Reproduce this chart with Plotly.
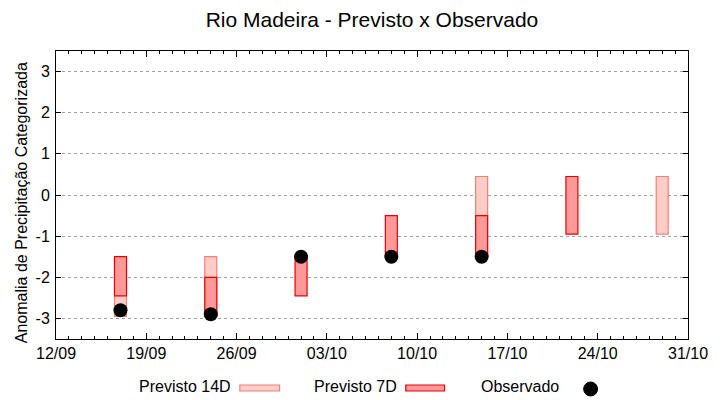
import plotly.graph_objects as go

# ---- data ----
dates = ["2023-09-17", "2023-09-24", "2023-10-01", "2023-10-08",
         "2023-10-15", "2023-10-22", "2023-10-29"]
p14_top = [-1.5, -1.5, None, None, 0.45, None, 0.45]
p14_bot = [-2.95, -2.95, None, None, -1.5, None, -0.95]
p7_top = [-1.5, -2.0, -1.5, -0.5, -0.5, 0.45, None]
p7_bot = [-2.45, -2.95, -2.45, -1.5, -1.5, -0.95, None]
obs = [-2.8, -2.9, -1.5, -1.5, -1.5, None, None]

y_ticks = [-3, -2, -1, 0, 1, 2, 3]
y_ticktext = ["-3", "-2", "-1", "0", "1", "2", "3"]

title = "Rio Madeira - Previsto x Observado"
y_title = "Anomalia de Precipitação Categorizada"
legend_names = ["Previsto 14D", "Previsto 7D", "Observado"]

# ---- styles ----
C14_FILL, C14_LINE = "#ffccc8", "#f08078"
C7_FILL, C7_LINE = "#ff9999", "#e80000"
DAY = 86400000
FONT = "Liberation Sans, Arial, sans-serif"

W, H = 720, 400
ML, MR, MT, MB = 56, 28, 51, 61
PW, PH = W - ML - MR, H - MT - MB


def px(x):
    return (x - ML) / PW


def py(y):
    return (H - MB - y) / PH


def bars(tops, bots):
    xs, ys, bs = [], [], []
    for d, t, b in zip(dates, tops, bots):
        if t is None or b is None:
            continue
        xs.append(d)
        ys.append(t - b)
        bs.append(b)
    return xs, ys, bs


fig = go.Figure()
x14, y14, b14 = bars(p14_top, p14_bot)
fig.add_trace(go.Bar(x=x14, y=y14, base=b14, width=0.93 * DAY,
                     marker=dict(color=C14_FILL, line=dict(color=C14_LINE, width=1.2)),
                     name=legend_names[0], showlegend=False))
x7, y7, b7 = bars(p7_top, p7_bot)
fig.add_trace(go.Bar(x=x7, y=y7, base=b7, width=0.93 * DAY,
                     marker=dict(color=C7_FILL, line=dict(color=C7_LINE, width=1.2)),
                     name=legend_names[1], showlegend=False))
fig.add_trace(go.Scatter(x=dates, y=obs, mode="markers",
                         marker=dict(color="black", size=14),
                         name=legend_names[2], showlegend=False))

fig.update_layout(
    width=W, height=H,
    margin=dict(l=ML, r=MR, t=MT, b=MB),
    barmode="overlay",
    plot_bgcolor="white", paper_bgcolor="white",
    font=dict(family=FONT, size=16, color="black"),
    title=dict(text=title, x=0.5, xref="paper", xanchor="center",
               y=1 - 20 / H, yref="container", yanchor="middle",
               font=dict(size=21, family=FONT, color="black")),
)
fig.update_xaxes(
    type="date", range=["2023-09-12", "2023-10-31"],
    tick0="2023-09-12", dtick=7 * DAY, tickformat="%d/%m",
    ticks="inside", ticklen=6, tickcolor="black",
    minor=dict(dtick=DAY, ticks="inside", ticklen=3, tickcolor="black", showgrid=False),
    showline=True, linecolor="black", linewidth=1, mirror="ticks",
    showgrid=False, zeroline=False,
    tickfont=dict(size=16), ticklabelstandoff=0,
)
fig.update_yaxes(
    range=[-3.5, 3.5], tickvals=y_ticks, ticktext=y_ticktext,
    ticks="inside", ticklen=5, tickcolor="black",
    showline=True, linecolor="black", linewidth=1, mirror="ticks",
    showgrid=True, gridcolor="#a0a0a0", griddash="dot", gridwidth=1,
    zeroline=False, tickfont=dict(size=16), ticklabelstandoff=2,
)

# y-axis title
fig.add_annotation(text=y_title, textangle=-90, xref="paper", yref="paper",
                   x=px(21), y=py(203), xanchor="center", yanchor="middle",
                   showarrow=False, font=dict(size=16))

# manual legend (text left, symbol right)
LY = 386
fig.add_annotation(text=legend_names[0], xref="paper", yref="paper",
                   x=px(234), y=py(LY), xanchor="right", yanchor="middle",
                   showarrow=False, font=dict(size=16))
fig.add_shape(type="rect", xref="paper", yref="paper",
              x0=px(241), x1=px(281), y0=py(391), y1=py(385),
              fillcolor=C14_FILL, line=dict(color=C14_LINE, width=1.2))
fig.add_annotation(text=legend_names[1], xref="paper", yref="paper",
                   x=px(401), y=py(LY), xanchor="right", yanchor="middle",
                   showarrow=False, font=dict(size=16))
fig.add_shape(type="rect", xref="paper", yref="paper",
              x0=px(408), x1=px(447), y0=py(391), y1=py(385),
              fillcolor=C7_FILL, line=dict(color=C7_LINE, width=1.2))
fig.add_annotation(text=legend_names[2], xref="paper", yref="paper",
                   x=px(564), y=py(LY), xanchor="right", yanchor="middle",
                   showarrow=False, font=dict(size=16))
fig.add_shape(type="circle", xref="paper", yref="paper",
              x0=px(587), x1=px(601), y0=py(396), y1=py(382),
              fillcolor="black", line=dict(color="black", width=1))

fig.write_html("out.html", config={"displayModeBar": False},
               post_script="document.body.style.margin='0';")
